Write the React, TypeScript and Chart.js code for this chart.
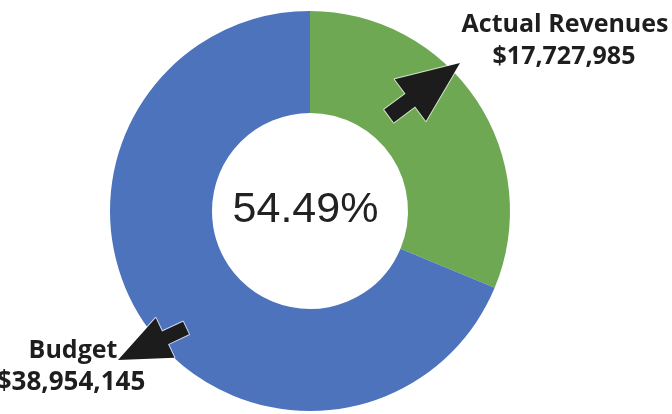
import React, { useEffect, useRef } from "react";
import { Chart, registerables } from "chart.js";

Chart.register(...registerables);

const categories = ["Actual Revenues", "Budget"];
const values = [17727985, 38954145];
const colors = ["#6EA853", "#4E73BD"];
const centerLabel = "54.49%";
const budgetLines = ["Budget", "$38,954,145"];
const actualLines = ["Actual Revenues", "$17,727,985"];

type Pt = { x: number; y: number };

function drawArrow(ctx: CanvasRenderingContext2D, tip: Pt, tail: Pt, headLen: number, headHalf: number, shaftHalf: number) {
  const dx = tip.x - tail.x;
  const dy = tip.y - tail.y;
  const len = Math.hypot(dx, dy);
  const ux = dx / len, uy = dy / len;
  const nx = -uy, ny = ux;
  const bx = tip.x - ux * headLen, by = tip.y - uy * headLen;
  ctx.beginPath();
  ctx.moveTo(tail.x + nx * shaftHalf, tail.y + ny * shaftHalf);
  ctx.lineTo(bx + nx * shaftHalf, by + ny * shaftHalf);
  ctx.lineTo(bx + nx * headHalf, by + ny * headHalf);
  ctx.lineTo(tip.x, tip.y);
  ctx.lineTo(bx - nx * headHalf, by - ny * headHalf);
  ctx.lineTo(bx - nx * shaftHalf, by - ny * shaftHalf);
  ctx.lineTo(tail.x - nx * shaftHalf, tail.y - ny * shaftHalf);
  ctx.closePath();
  ctx.lineJoin = "round";
  ctx.strokeStyle = "rgba(255,255,255,0.7)";
  ctx.lineWidth = 2;
  ctx.stroke();
  ctx.fillStyle = "#1c1c1c";
  ctx.fill();
}

const overlayPlugin = {
  id: "overlay",
  afterDraw(chart: any) {
    const ctx: CanvasRenderingContext2D = chart.ctx;
    const arc = chart.getDatasetMeta(0).data[0];
    const cx = arc.x, cy = arc.y;
    ctx.save();
    // center text
    ctx.fillStyle = "#222222";
    ctx.font = "43px 'Liberation Sans', Arial, sans-serif";
    ctx.textAlign = "center";
    ctx.textBaseline = "alphabetic";
    ctx.fillText(centerLabel, cx - 4.5, cy + 11);

    // arrows
    drawArrow(ctx, { x: 460, y: 63 }, { x: 389, y: 116 }, 62, 26, 8);
    drawArrow(ctx, { x: 118, y: 360 }, { x: 186, y: 328 }, 52, 22, 7);

    // labels
    ctx.fillStyle = "#1e1e1e";
    ctx.font = "bold 25px 'Open Sans', sans-serif";
    ctx.textAlign = "center";
    ctx.fillText(actualLines[0], 565, 32);
    ctx.fillText(actualLines[1], 564, 64);
    ctx.fillText(budgetLines[0], 73, 358);
    ctx.font = "bold 26px 'Open Sans', sans-serif";
    ctx.fillText(budgetLines[1], 71, 390);
    ctx.restore();
  },
};

export default function App() {
  const ref = useRef<HTMLCanvasElement | null>(null);
  useEffect(() => {
    document.body.style.margin = "0";
    const canvas = ref.current;
    if (!canvas) return;
    const chart = new Chart(canvas, {
      type: "doughnut",
      data: {
        labels: categories,
        datasets: [
          {
            data: values,
            backgroundColor: colors,
            borderWidth: 0,
          },
        ],
      },
      options: {
        responsive: false,
        animation: false,
        cutout: "49%",
        layout: { padding: { left: 110, right: 162, top: 11, bottom: 3 } },
        plugins: {
          legend: { display: false },
          tooltip: { enabled: false },
        },
      },
      plugins: [overlayPlugin],
    });
    return () => chart.destroy();
  }, []);
  return (
    <div style={{ width: 672, height: 414, background: "#ffffff" }}>
      <canvas ref={ref} width={672} height={414} style={{ display: "block" }} />
    </div>
  );
}
